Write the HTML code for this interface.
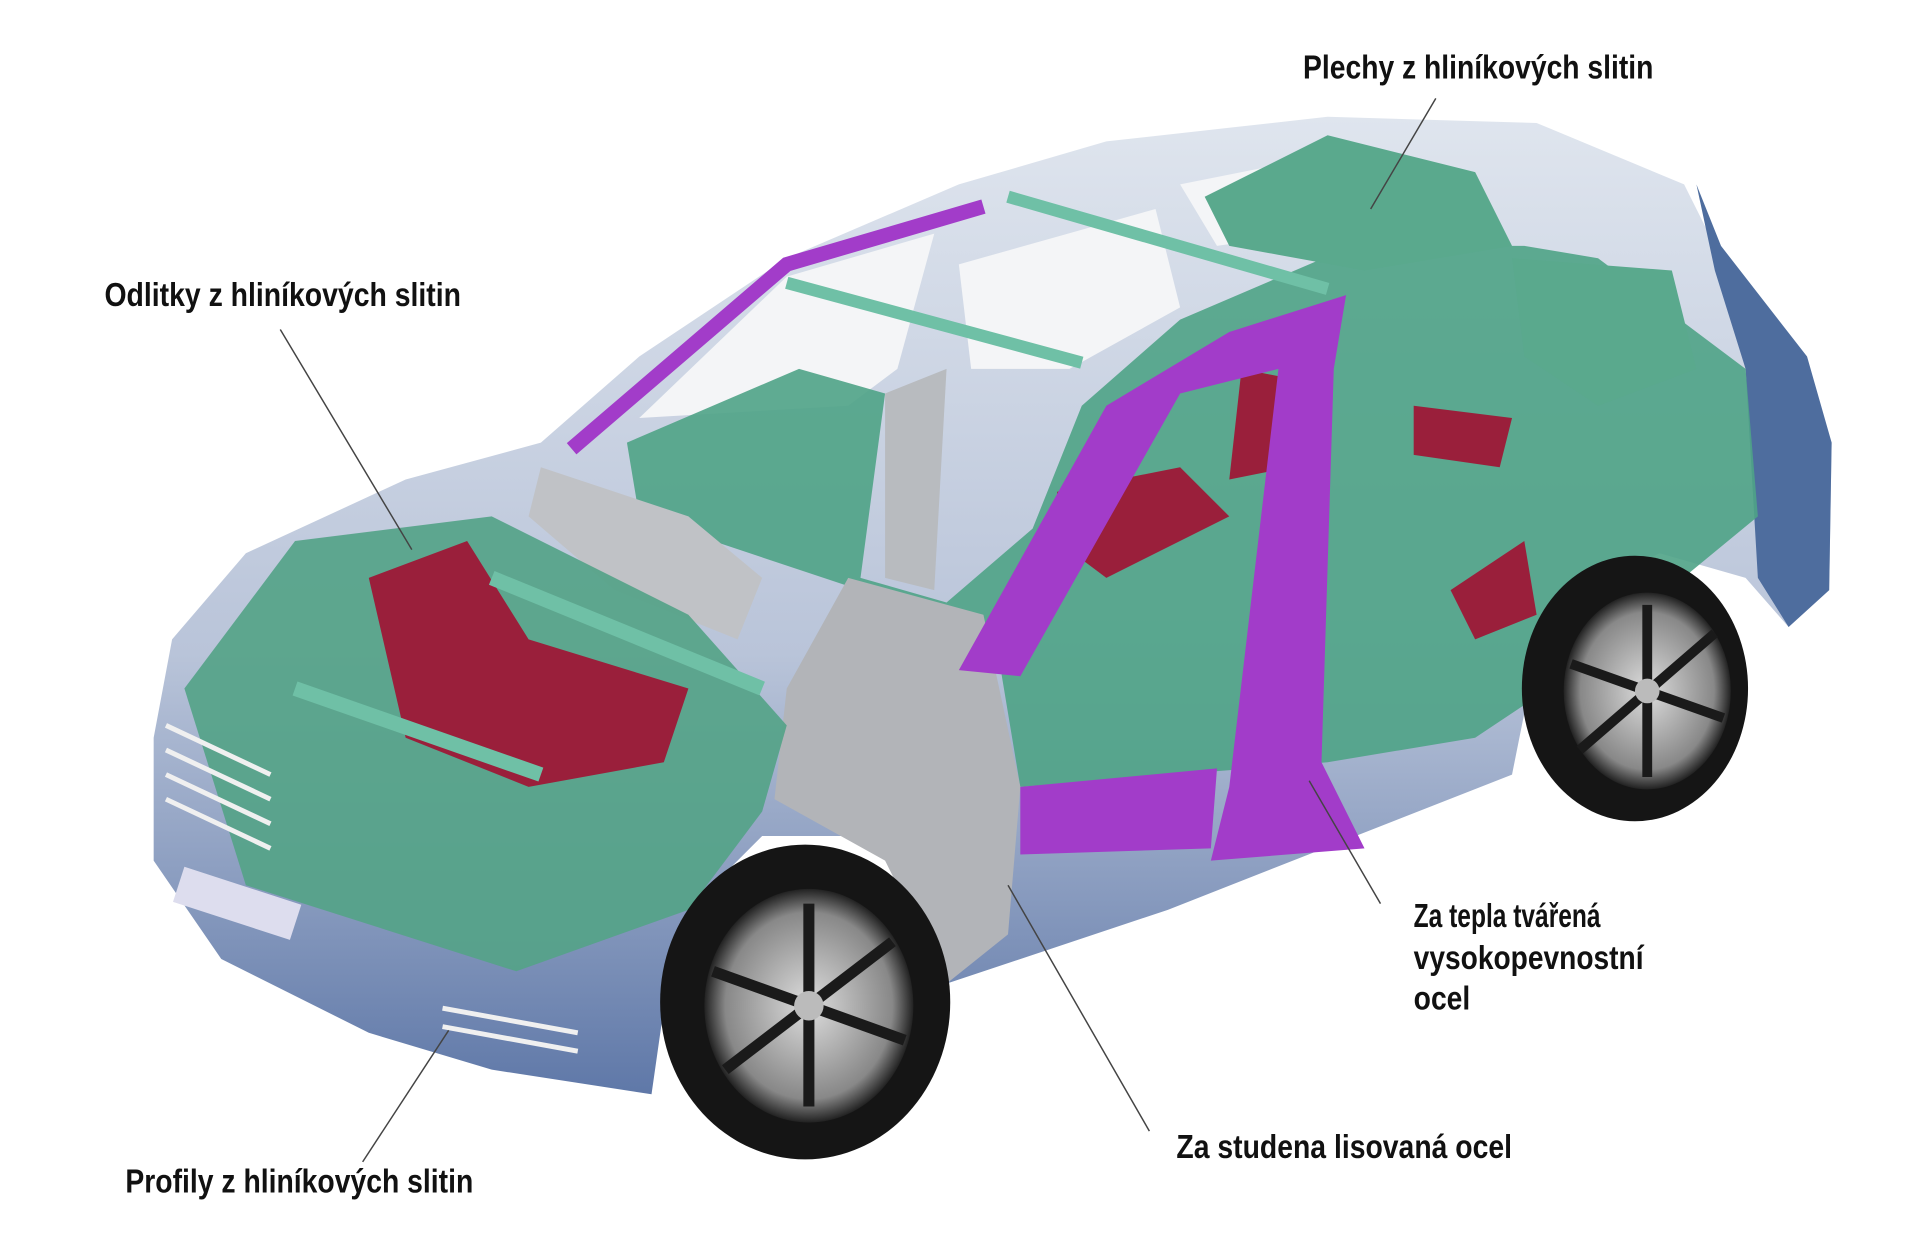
<!DOCTYPE html>
<html><head><meta charset="utf-8"><style>
html,body{margin:0;padding:0;background:#fff;}
svg{display:block;}
text{font-family:"Liberation Sans",sans-serif;font-weight:bold;font-size:27px;fill:#111;}
</style></head><body>
<svg width="1914" height="1259" viewBox="0 0 1557 1024" preserveAspectRatio="none" xmlns="http://www.w3.org/2000/svg">
<defs>
<linearGradient id="bd" x1="0" y1="0" x2="0" y2="1">
<stop offset="0" stop-color="#dfe5ee"/><stop offset="0.55" stop-color="#b9c4d9"/><stop offset="1" stop-color="#5f78a8"/></linearGradient>
<radialGradient id="rim"><stop offset="0" stop-color="#ddd"/><stop offset="0.8" stop-color="#888"/><stop offset="1" stop-color="#222"/></radialGradient>
</defs>
<polygon fill="url(#bd)" points="125,600 140,520 200,450 330,390 440,360 520,290 640,210 780,150 900,115 1080,95 1250,100 1370,150 1395,200 1460,280 1490,360 1488,480 1455,510 1420,470 1350,450 1290,480 1240,580 1230,630 950,740 770,800 760,730 700,680 620,680 560,740 540,820 530,890 400,870 300,840 180,780 125,700"/>
<polygon fill="#4e6d9e" points="1380,150 1400,200 1470,290 1490,360 1488,480 1455,510 1430,470 1420,300 1395,220"/>
<polygon fill="#f4f5f7" points="520,340 640,225 760,190 730,300 690,330"/>
<polygon fill="#f4f5f7" points="780,215 940,170 960,250 870,300 790,300"/>
<polygon fill="#f4f5f7" points="960,150 1060,130 1060,190 990,200"/>
<polygon fill="#4fa386" opacity="0.9" points="510,360 650,300 720,320 700,470 770,490 840,430 880,330 960,260 1100,200 1240,200 1300,210 1420,300 1430,420 1260,560 1200,600 1080,620 830,640 810,520 700,480 520,420"/>
<polygon fill="#5aa98d" points="980,160 1080,110 1200,140 1230,200 1110,220 1000,200"/>
<polygon fill="#5aa98d" points="1230,210 1360,220 1380,300 1300,330 1240,290"/>
<polygon fill="#b2b4b8" points="690,470 800,500 830,640 820,760 770,800 720,700 630,650 640,560"/>
<polygon fill="#b8bbbf" points="720,320 770,300 760,480 720,470"/>
<polygon fill="#c0c2c6" points="440,380 560,420 620,470 600,520 500,480 430,420"/>
<polygon fill="#55a388" opacity="0.92" points="150,560 240,440 400,420 560,500 640,590 620,660 560,740 420,790 200,720"/>
<polygon fill="#9a1f3b" points="300,470 380,440 430,520 560,560 540,620 430,640 330,600"/>
<polygon fill="#9a1f3b" points="1010,300 1060,310 1050,380 1000,390"/>
<polygon fill="#9a1f3b" points="860,400 960,380 1000,420 900,470 860,440"/>
<polygon fill="#9a1f3b" points="1150,330 1230,340 1220,380 1150,370"/>
<polygon fill="#9a1f3b" points="1180,480 1240,440 1250,500 1200,520"/>
<polygon fill="#a23cc9" points="780,545 900,330 1000,270 1095,240 1085,300 1075,620 1110,690 985,700 1000,640 1040,300 960,320 830,550"/>
<polyline fill="none" stroke="#a23cc9" stroke-width="12" points="465,365 640,215 800,168"/>
<polygon fill="#a23cc9" points="830,640 990,625 985,690 830,695"/>
<polyline fill="none" stroke="#6fc0a6" stroke-width="10" points="640,230 880,295"/>
<polyline fill="none" stroke="#6fc0a6" stroke-width="10" points="820,160 1080,235"/>
<polyline fill="none" stroke="#6fc0a6" stroke-width="12" points="240,560 440,630"/>
<polyline fill="none" stroke="#6fc0a6" stroke-width="12" points="400,470 620,560"/>
<g stroke="#f0f0f0" stroke-width="4">
<line x1="135" y1="590" x2="220" y2="630"/><line x1="135" y1="610" x2="220" y2="650"/><line x1="135" y1="630" x2="220" y2="670"/><line x1="135" y1="650" x2="220" y2="690"/>
<line x1="360" y1="820" x2="470" y2="840"/><line x1="360" y1="835" x2="470" y2="855"/>
</g>
<rect x="150" y="705" width="100" height="30" fill="#dde" transform="rotate(18 150 705)"/>
<ellipse cx="655" cy="815" rx="118" ry="128" fill="#151515"/>
<ellipse cx="658" cy="818" rx="85" ry="95" fill="url(#rim)"/>
<g stroke="#1a1a1a" stroke-width="9"><line x1="658" y1="735" x2="658" y2="900"/><line x1="580" y1="790" x2="736" y2="846"/><line x1="590" y1="870" x2="726" y2="766"/></g>
<circle cx="658" cy="818" r="12" fill="#bbb"/>
<ellipse cx="1330" cy="560" rx="92" ry="108" fill="#151515"/>
<ellipse cx="1340" cy="562" rx="68" ry="80" fill="url(#rim)"/>
<g stroke="#1a1a1a" stroke-width="8"><line x1="1340" y1="492" x2="1340" y2="632"/><line x1="1278" y1="540" x2="1402" y2="584"/><line x1="1285" y1="610" x2="1395" y2="515"/></g>
<circle cx="1340" cy="562" r="10" fill="#bbb"/>
<g stroke="#444" stroke-width="1.2">
<line x1="1168" y1="80" x2="1115" y2="170"/>
<line x1="228" y1="268" x2="335" y2="447"/>
<line x1="1123" y1="735" x2="1065" y2="635"/>
<line x1="935" y1="920" x2="820" y2="720"/>
<line x1="295" y1="945" x2="365" y2="838"/>
</g>
<text x="1060" y="64" textLength="285" lengthAdjust="spacingAndGlyphs">Plechy z hliníkových slitin</text>
<text x="85" y="249" textLength="290" lengthAdjust="spacingAndGlyphs">Odlitky z hliníkových slitin</text>
<text x="1150" y="754" textLength="152" lengthAdjust="spacingAndGlyphs">Za tepla tvářená</text>
<text x="1150" y="788" textLength="187" lengthAdjust="spacingAndGlyphs">vysokopevnostní</text>
<text x="1150" y="821" textLength="46" lengthAdjust="spacingAndGlyphs">ocel</text>
<text x="957" y="942" textLength="273" lengthAdjust="spacingAndGlyphs">Za studena lisovaná ocel</text>
<text x="102" y="970" textLength="283" lengthAdjust="spacingAndGlyphs">Profily z hliníkových slitin</text>
</svg>
</body></html>
